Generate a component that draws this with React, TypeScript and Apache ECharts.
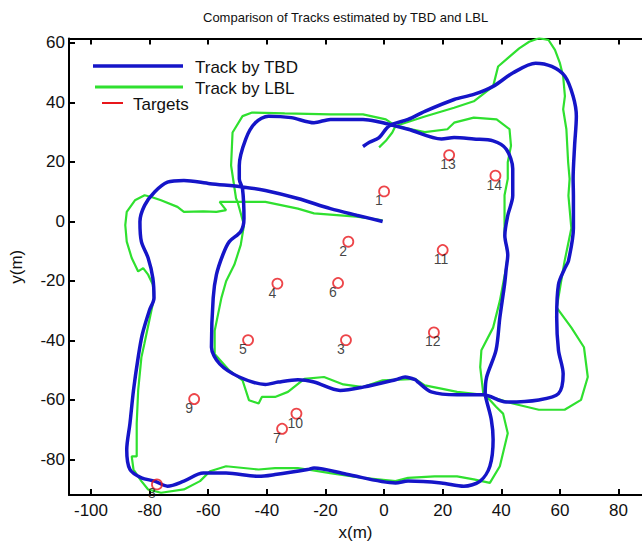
import React, { useEffect, useRef } from "react";
import * as echarts from "echarts";

const titleText = "Comparison of Tracks estimated by TBD and LBL";
const xTicks = [-100, -80, -60, -40, -20, 0, 20, 40, 60, 80];
const yTicks = [-80, -60, -40, -20, 0, 20, 40, 60];

// Track estimated by TBD (blue)
const tbdTrack: number[][] = [
  [-0.5, 0], [-9.4, 2.1], [-18.3, 4.3], [-29.4, 7.7], [-40.5, 10.4], [-48.3, 11.6], [-59.4, 12.7],
  [-68.3, 13.8], [-73.9, 13.2], [-78.3, 9.9], [-81.7, 5.4], [-83.3, -0.1], [-82.8, -6.8], [-80.5, -12.3],
  [-78.9, -19], [-78.5, -25.7], [-80.1, -30], [-82.5, -38], [-83.9, -45.7], [-85.5, -56.8], [-86.7, -67.9],
  [-87.8, -76.8], [-86.7, -83.4], [-82.8, -86.2], [-78.3, -87.3], [-73.9, -89], [-68.3, -87.3], [-61.7, -84.6],
  [-53.9, -84.6], [-42.8, -85.7], [-37.2, -85.1], [-26.1, -83.4], [-23.9, -82.9], [-12.8, -85], [3.9, -87.9],
  [8.2, -87.3], [19.5, -87.9], [27.2, -89], [32.8, -87.3], [36.1, -82.3], [37.2, -73.3], [36.6, -66.7],
  [34.9, -60], [34.5, -57.9], [35, -52.3], [38.2, -43.3], [39.5, -32.3], [41.1, -21.2], [41.7, -15.7],
  [42.2, -11.3], [41.2, -4.7], [42.2, 2], [43.9, 8.7], [43.9, 17.7], [41.7, 24.3], [37.2, 27.1], [30.6, 27.7],
  [23.9, 28.2], [19.6, 27.7], [8.2, 31], [-2.8, 33.7], [-7.2, 34.3], [-18.3, 34.3], [-23.9, 33.2], [-31.7, 34.9],
  [-39.4, 35.4], [-43.9, 33.2], [-47.2, 27.7], [-49.4, 18.8], [-49.4, 14.3], [-48.3, 11], [-47.8, 1],
  [-48.9, -3.4], [-52.8, -6.8], [-55, -11.2], [-57.2, -17.9], [-58.3, -25.7], [-58.9, -42.3], [-56.1, -47.9],
  [-49.4, -52.3], [-40.5, -54.8], [-36.1, -54], [-29.4, -53.2], [-23.9, -54], [-15, -56.8], [-7.2, -55.7],
  [3.9, -53.2], [7.2, -52.3], [10.6, -53.2], [11.6, -54], [16.1, -57.3], [24.9, -58.3], [33.9, -58.3],
  [41.6, -60.7], [52.8, -60], [59.5, -57.9], [61.1, -51.2], [59.5, -43.3], [58.9, -32.3], [59.5, -21.2],
  [61.7, -15.7], [62.9, -13.3], [64.6, -2.3], [64.6, 8.7], [64.5, 14.3], [65, 25.4], [65.6, 35.4], [64.5, 42.1],
  [61.7, 48.8], [57.2, 52.1], [51.7, 53.2], [43.9, 49.9], [37.2, 45.4], [30.6, 42.7], [23.9, 41], [13.9, 37],
  [8.2, 34.3], [1.7, 32.1], [-1.7, 28.2], [-5, 26.6], [-7.2, 25.2],
];

// Track estimated by LBL (green)
const lblTrack: number[][] = [
  [-0.5, 0.4], [-9.4, 1.6], [-23.9, 2.7], [-29.4, 4.3], [-40.5, 6.6], [-48.3, 6.6], [-56.1, 6.6], [-53.9, 3.8],
  [-57.2, 3.2], [-61.7, 3.4], [-68.3, 3.2], [-70.5, 4.9], [-76.1, 7.1], [-79.4, 8.2], [-81.7, 8.8], [-85, 7.1],
  [-87.8, 3.2], [-88.3, -1.2], [-87.8, -6.8], [-86.1, -12.3], [-83.9, -16.8], [-82.2, -15.7], [-80.5, -17.9],
  [-78.9, -21.2], [-78.5, -25.7], [-79.4, -30], [-81.8, -41.2], [-82.8, -45.7], [-83.9, -56.8], [-84.4, -67.9],
  [-84.4, -79], [-86.1, -79], [-85.5, -83.4], [-82.8, -87.3], [-80.5, -90.1], [-76.1, -91.2], [-68.3, -90.1],
  [-62.8, -87.3], [-59.4, -84], [-53.9, -82.3], [-42.8, -83.4], [-37.2, -82.9], [-29.4, -82.9], [-18.4, -84.6],
  [-7.2, -86.2], [3.9, -87.3], [8.2, -86.2], [17.2, -85.7], [24.9, -85.7], [30.6, -86.7], [36.1, -87.9],
  [39.5, -82.3], [42.2, -71.2], [40.6, -64.6], [38.2, -62.3], [36.1, -60], [33.9, -58.3], [32.8, -49],
  [33.2, -43.3], [37.2, -35.7], [39.5, -26.7], [41.6, -15.7], [42.2, -11.2], [41.1, -4.6], [41.1, 8.8],
  [42.2, 14.3], [42.2, 19.9], [43.3, 25.4], [42.8, 31], [38.4, 34.3], [30.6, 34.9], [23.9, 33.2], [21.6, 31],
  [13.9, 30], [3.9, 32.1], [0.6, 34.3], [-7.2, 36], [-18.3, 36], [-33.9, 36.3], [-45, 36.6], [-48.3, 35.4],
  [-51.7, 29.9], [-52.2, 18.8], [-50.5, 7.7], [-50, 6.6], [-47.8, -1.2], [-48.9, -7.9], [-51.1, -14.6],
  [-53.9, -20.1], [-55.5, -25.7], [-57.8, -36.8], [-57.8, -44.6], [-52.8, -50.1], [-48.3, -53.4], [-46.1, -60.1],
  [-42.8, -61.2], [-41.7, -59], [-37.2, -59], [-32.8, -57.3], [-27.2, -52.9], [-20.5, -52.3], [-13.9, -54.8],
  [-7.2, -55.7], [-0.5, -53.4], [10.6, -52.9], [13.9, -55.1], [19.5, -56.2], [24.9, -57.3], [33.9, -58.3],
  [43.9, -61.2], [52.8, -63.3], [61.6, -63.3], [67.2, -60], [69.5, -52.3], [68.2, -42.3], [63.9, -35.7],
  [58.9, -29], [60.6, -19], [61.6, -13.3], [63.9, -2.3], [62.9, 8.7], [63.3, 14.3], [62.8, 19.9], [62.2, 31],
  [61.1, 37.7], [61.7, 42.1], [61.1, 48.8], [60, 53.2], [58.3, 57.7], [56.1, 61], [52.8, 61.6], [49.5, 60.4],
  [46.1, 58.2], [42.8, 55.4], [38.9, 52.1], [37.2, 45.4], [30.6, 40.4], [23.9, 38.2], [13.9, 35.3], [3.9, 32.1],
  [2.8, 29.9], [0.6, 27.1], [-1.7, 24.9],
];

const targetIds = ["1", "2", "3", "4", "5", "6", "7", "8", "9", "10", "11", "12", "13", "14"];
const targetX = [0, -12.2, -13, -36.4, -46.4, -15.7, -34.8, -77.5, -64.8, -29.9, 20, 17, 22.2, 38];
const targetY = [10.1, -6.8, -39.9, -20.9, -39.9, -20.7, -69.7, -88.4, -59.7, -64.6, -9.6, -37.3, 22.3, 15.4];

const legendItems = ["Track by TBD", "Track by LBL", "Targets"];

export default function App() {
  const ref = useRef<HTMLDivElement>(null);
  useEffect(() => {
    const chart = echarts.init(ref.current!, null, { renderer: "svg" });
    const font = "'Liberation Sans', Arial, sans-serif";
    const axisCommon = {
      type: "value",
      splitLine: { show: false },
      axisLine: { onZero: false, lineStyle: { color: "#000", width: 2 } },
    };
    chart.setOption({
      animation: false,
      backgroundColor: "#fff",
      title: {
        text: titleText,
        left: 198,
        top: 6,
        textStyle: { fontFamily: font, fontSize: 13, fontWeight: "normal", color: "#111" },
      },
      grid: { left: 66, top: 38.5, width: 586.5, height: 460.5 },
      xAxis: [
        {
          ...axisCommon,
          min: -107.5,
          max: 88,
          position: "bottom",
          name: "x(m)",
          nameLocation: "middle",
          nameGap: 26,
          nameTextStyle: { fontFamily: font, fontSize: 17, color: "#111" },
          axisTick: { inside: true, length: 6, customValues: xTicks, lineStyle: { color: "#000", width: 2 } },
          axisLabel: { customValues: xTicks, margin: 7, fontSize: 17, color: "#111", fontFamily: font },
        },
        {
          ...axisCommon,
          min: -107.5,
          max: 88,
          position: "top",
          axisTick: { inside: true, length: 6, customValues: xTicks, lineStyle: { color: "#000", width: 2 } },
          axisLabel: { show: false },
        },
      ],
      yAxis: [
        {
          ...axisCommon,
          min: -92,
          max: 61.5,
          position: "left",
          name: "y(m)",
          nameLocation: "middle",
          nameGap: 44,
          nameTextStyle: { fontFamily: font, fontSize: 17, color: "#111" },
          axisTick: { inside: true, length: 6, customValues: yTicks, lineStyle: { color: "#000", width: 2 } },
          axisLabel: { customValues: yTicks, margin: 4, fontSize: 17, color: "#111", fontFamily: font },
        },
      ],
      graphic: [
        { type: "line", shape: { x1: 93, y1: 66, x2: 183, y2: 66 }, style: { stroke: "#1515c8", lineWidth: 3.5 } },
        { type: "text", x: 195, y: 67, style: { text: legendItems[0], fontSize: 17, fontFamily: font, fill: "#111", verticalAlign: "middle" } },
        { type: "line", shape: { x1: 95, y1: 87, x2: 183, y2: 87 }, style: { stroke: "#2fe02f", lineWidth: 3 } },
        { type: "text", x: 195, y: 88, style: { text: legendItems[1], fontSize: 17, fontFamily: font, fill: "#111", verticalAlign: "middle" } },
        { type: "line", shape: { x1: 102, y1: 103, x2: 123, y2: 103 }, style: { stroke: "#e8161b", lineWidth: 2 } },
        { type: "text", x: 133, y: 104, style: { text: legendItems[2], fontSize: 17, fontFamily: font, fill: "#111", verticalAlign: "middle" } },
      ],
      series: [
        {
          name: "Track by LBL",
          type: "line",
          data: lblTrack,
          showSymbol: false,
          symbol: "none",
          lineStyle: { color: "#2fe02f", width: 2.2 },
          z: 2,
        },
        {
          name: "Track by TBD",
          type: "line",
          data: tbdTrack,
          showSymbol: false,
          symbol: "none",
          smooth: 0.3,
          lineStyle: { color: "#1515c8", width: 3.5 },
          z: 3,
        },
        {
          name: "Targets",
          type: "scatter",
          data: targetX.map((x, i) => ({ value: [x, targetY[i]], name: targetIds[i] })),
          symbol: "circle",
          symbolSize: 10,
          itemStyle: { color: "rgba(0,0,0,0)", borderColor: "#e8161b", borderWidth: 1.8 },
          label: {
            show: true,
            formatter: "{b}",
            position: "inside",
            offset: [-9, 9],
            align: "left",
            verticalAlign: "middle",
            fontSize: 14,
            color: "#111",
            fontFamily: font,
          },
          z: 5,
        },
      ],
    });
    return () => chart.dispose();
  }, []);
  return <div ref={ref} style={{ position: "fixed", left: 0, top: 0, width: 642, height: 546 }} />;
}
